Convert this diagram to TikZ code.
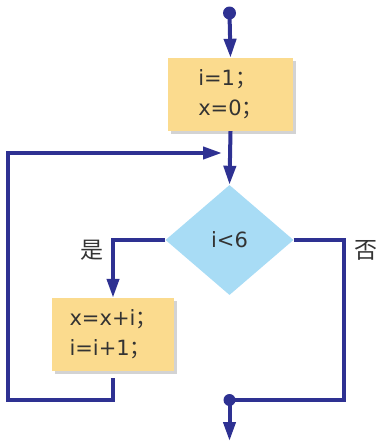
\documentclass[tikz,border=0pt]{standalone}
\usepackage{fontspec}
\setmainfont{DejaVu Sans}
\newfontfamily\cjk{Noto Sans CJK SC}
\usetikzlibrary{arrows.meta,shapes.geometric,shadows}
\definecolor{flow}{HTML}{2E3192}
\definecolor{boxfill}{HTML}{FBDB8E}
\definecolor{diafill}{HTML}{A8DCF5}
\definecolor{txt}{HTML}{333333}
\tikzset{
  flowline/.style={draw=flow, line width=4pt},
  flowarrow/.style={flowline, -{Triangle[length=19pt,width=12pt]}},
  procbox/.style={fill=boxfill, text=txt, align=left, inner sep=0pt,
    font=\fontsize{21}{30}\selectfont,
    drop shadow={shadow xshift=2.5pt, shadow yshift=-2.5pt, opacity=0.35, fill=gray}},
  decision/.style={diamond, fill=diafill, text=txt, inner sep=0pt, aspect=1.16,
    minimum width=128pt, minimum height=110pt, font=\fontsize{21}{24}\selectfont},
  branchlabel/.style={text=txt, font=\cjk\fontsize{23}{26}\selectfont},
  dot/.style={circle, fill=flow, inner sep=0pt, minimum size=#1}
}
\begin{document}
\begin{tikzpicture}[x=1pt,y=-1pt]
\useasboundingbox (0,0) rectangle (381,442);
\node[dot=13pt] (start) at (229.5,13) {};
\node[procbox, minimum width=125pt, minimum height=73pt] (init) at (230.5,94.5) {i=1{\cjk ；}\\x=0{\cjk ；}};
\node[decision] (cond) at (229.5,240) {i<6};
\node[procbox, minimum width=122pt, minimum height=73pt] (body) at (113,334.5) {x=x+i{\cjk ；}\\i=i+1{\cjk ；}};
\node[dot=12pt] (join) at (229.5,400) {};
\coordinate (loopin) at (222,153);
\coordinate (bodyout) at (113,378);
\coordinate (exit) at (229.5,441);
\node[branchlabel] (yes) at (92,250) {是};
\node[branchlabel] (no) at (366,250) {否};

\draw[flowarrow] (start.center) -- (init.north);
\draw[flowarrow] (init.south) -- (cond.north);
\draw[flowarrow] (cond.west) -| (body.north);
\draw[flowarrow] (bodyout) |- (8,400) |- (loopin);
\draw[flowline] (cond.east) -| (344,400) -- (join.center);
\draw[flowarrow] (join.center) -- (exit);
\end{tikzpicture}
\end{document}
